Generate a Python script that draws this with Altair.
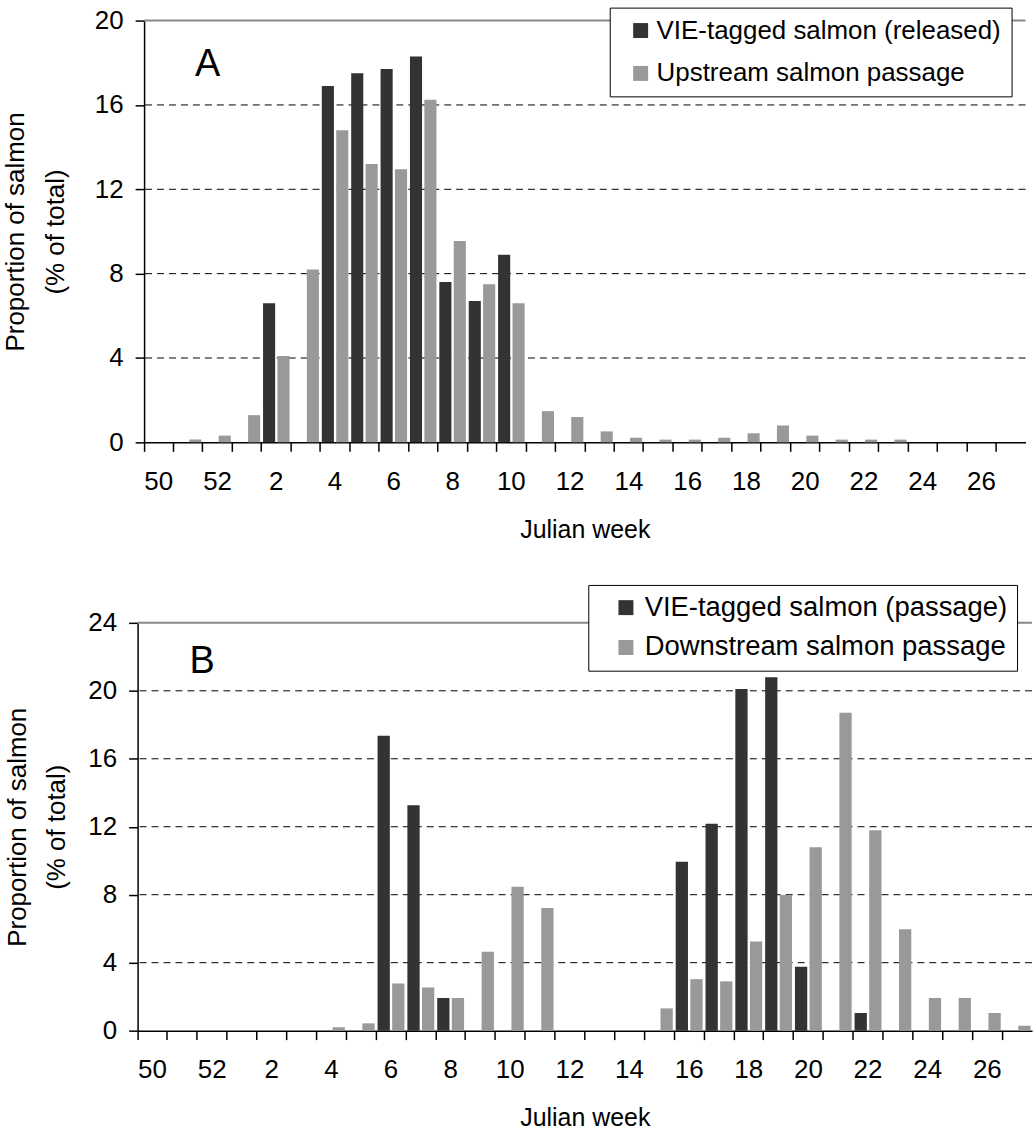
import json
import altair as alt
import pandas as pd

FONT = "Liberation Sans, Arial, sans-serif"

weeks = ["50", "51", "52", "1", "2", "3", "4", "5", "6", "7", "8", "9", "10",
         "11", "12", "13", "14", "15", "16", "17", "18", "19", "20", "21",
         "22", "23", "24", "25", "26", "27"]
tick_labels = ["50", "52", "2", "4", "6", "8", "10", "12", "14", "16", "18",
               "20", "22", "24", "26"]

# Panel A
a_names = ["VIE-tagged salmon (released)", "Upstream salmon passage"]
a_tagged = [0, 0, 0, 0, 6.6, 0, 16.9, 17.5, 17.7, 18.3, 7.6, 6.7, 8.9,
            0, 0, 0, 0, 0, 0, 0, 0, 0, 0, 0, 0, 0, 0, 0, 0, 0]
a_upstream = [0, 0.13, 0.32, 1.29, 4.1, 8.2, 14.8, 13.2, 12.95, 16.25, 9.55, 7.5, 6.6,
              1.48, 1.2, 0.52, 0.22, 0.13, 0.13, 0.22, 0.43, 0.8, 0.32, 0.13, 0.13,
              0.13, 0, 0, 0, 0]
a_yticks = [0, 4, 8, 12, 16, 20]

# Panel B
b_names = ["VIE-tagged salmon (passage)", "Downstream salmon passage"]
b_tagged = [0, 0, 0, 0, 0, 0, 0, 0, 17.36, 13.27, 1.92, 0, 0, 0, 0, 0, 0, 0,
            9.94, 12.17, 20.1, 20.8, 3.76, 0, 1.04, 0, 0, 0, 0, 0]
b_downstream = [0, 0, 0, 0, 0, 0, 0.2, 0.43, 2.78, 2.54, 1.92, 4.64, 8.47, 7.22,
                0, 0, 0, 1.31, 3.03, 2.9, 5.24, 7.98, 10.8, 18.71, 11.8, 5.97,
                1.92, 1.92, 1.04, 0.29]
b_yticks = [0, 4, 8, 12, 16, 20, 24]

colors = ["#333333", "#999999"]
panel_letters = ["A", "B"]
letter_values = [17.9, 21.7]

label_expr = "indexof(" + json.dumps(tick_labels) + ", datum.label) >= 0 ? datum.label : ''"


def panel(tagged, other, names, yticks, width, height, legend_x, legend_y,
          leg_pad, row_pad, leg_font, sym_off, lab_off, letter, letter_value,
          letter_dx, ytitle_pad):
    ymax = yticks[-1]
    df = pd.DataFrame({
        "week": weeks + weeks,
        "series": [names[0]] * len(weeks) + [names[1]] * len(weeks),
        "value": tagged + other,
    })
    x_enc = alt.X(
        "week:N",
        scale=alt.Scale(domain=weeks, paddingInner=0, paddingOuter=0),
        axis=alt.Axis(
            title="Julian week", bandPosition=0,
            labelExpr=label_expr,
            labelAngle=0, labelFontSize=26, titleFontSize=25, tickSize=9,
            labelPadding=17, titlePadding=23, domainWidth=1.5, tickWidth=1.5,
            tickColor="#000000", tickOpacity=1,
            labelOverlap=False, grid=False, ticks=True,
        ),
    )
    y_enc = alt.Y(
        "value:Q",
        scale=alt.Scale(domain=[0, ymax], nice=False, zero=True),
        axis=alt.Axis(
            values=yticks, title=["Proportion of salmon", "(% of total)"],
            grid=False,
            labelFontSize=26, titleFontSize=26, tickSize=9, labelPadding=12,
            titlePadding=ytitle_pad, titleLineHeight=40, domainWidth=1.5,
            tickWidth=1.5,
        ),
    )
    gdf = pd.DataFrame({"value": yticks[1:-1]})
    grid = alt.Chart(gdf).mark_rule(color="#000000", strokeDash=[7, 5],
                                    strokeWidth=1).encode(y=alt.Y("value:Q"))
    tdf = pd.DataFrame({"value": [ymax]})
    top = alt.Chart(tdf).mark_rule(color="#888888", strokeWidth=2).encode(
        y=alt.Y("value:Q"))
    bars = alt.Chart(df).mark_bar().encode(
        x=x_enc,
        xOffset=alt.XOffset("series:N", scale=alt.Scale(domain=names, paddingInner=0.16,
                                                        paddingOuter=0.1)),
        y=y_enc,
        color=alt.Color(
            "series:N",
            scale=alt.Scale(domain=names, range=colors),
            legend=alt.Legend(
                title=None, orient="none", legendX=legend_x, legendY=legend_y,
                labelFontSize=leg_font, labelFont=FONT, labelLimit=1000,
                symbolType="square", symbolSize=225, symbolStrokeWidth=0,
                symbolOffset=sym_off, labelOffset=lab_off, padding=leg_pad,
                rowPadding=row_pad, strokeColor="#000000", fillColor="#ffffff",
            ),
        ),
    )
    text = alt.Chart().mark_text(fontSize=38, font=FONT, dx=letter_dx,
                                 color="#000000").encode(
        x=alt.datum(weeks[2]),
        y=alt.datum(letter_value),
        text=alt.value(letter),
    )
    return alt.layer(grid, top, bars, text).properties(width=width, height=height)


pa = panel(a_tagged, a_upstream, a_names, a_yticks, 884, 423, 467, -13, 10, 17,
           26, 8, 3, panel_letters[0], letter_values[0], -10, 26)
pb = panel(b_tagged, b_downstream, b_names, b_yticks, 897, 409, 452, -38, 9, 11,
           27.5, 15, 5, panel_letters[1], letter_values[1], -10, 18)

chart = alt.vconcat(pa, pb, spacing=42, center=True).resolve_scale(
    color="independent", x="independent", y="independent", xOffset="independent"
).resolve_legend(color="independent").properties(
    padding={"left": 2, "top": 5, "right": 0, "bottom": 0},
    background="#ffffff",
).configure_view(stroke=None).configure_axis(
    labelFont=FONT, titleFont=FONT, labelColor="#000000", titleColor="#000000",
    titleFontWeight="normal", domainColor="#000000", tickColor="#000000",
).configure_legend(labelColor="#000000")

chart.save("out.html", embed_options={"renderer": "svg", "actions": False})
